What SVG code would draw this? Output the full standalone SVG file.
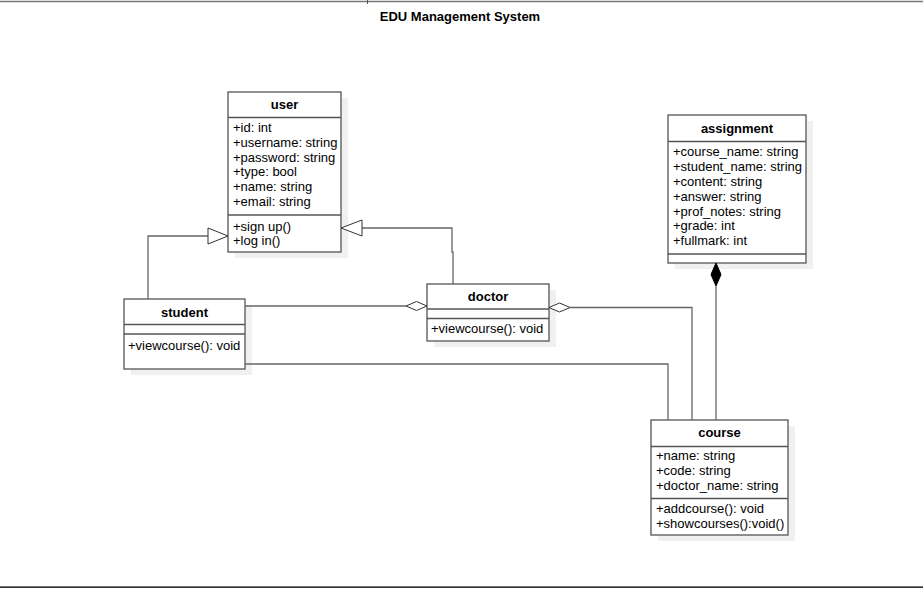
<svg xmlns="http://www.w3.org/2000/svg" width="923" height="589" viewBox="0 0 923 589">
<style>
  .box { fill: #ffffff; stroke: #555555; stroke-width: 1.3; }
  .shadow { fill: #f0f0f0; stroke: none; }
  .sep { stroke: #555555; stroke-width: 1.3; }
  .hdr { font-family: "Liberation Sans", Arial, sans-serif; font-size: 13px; font-weight: bold; fill: #000; text-anchor: middle; }
  .txt { font-family: "Liberation Sans", Arial, sans-serif; font-size: 13px; fill: #000; }
  .conn { fill: none; stroke: #666666; stroke-width: 1.3; }
  .gen { fill: #ffffff; stroke: #333333; stroke-width: 1; }
  .agg { fill: #ffffff; stroke: #333333; stroke-width: 1; }
  .comp { fill: #000000; stroke: #000000; stroke-width: 1; }
</style>
<rect x="0" y="0" width="923" height="589" fill="#ffffff"/>
<line x1="0" y1="1.5" x2="923" y2="1.5" stroke="#777777" stroke-width="1.5"/>
<line x1="367.5" y1="0" x2="367.5" y2="4" stroke="#555555" stroke-width="1"/>
<line x1="0" y1="586.5" x2="923" y2="586.5" stroke="#777777" stroke-width="1"/>
<line x1="0" y1="587.5" x2="923" y2="587.5" stroke="#333333" stroke-width="1"/>
<text x="460" y="20.5" class="hdr">EDU Management System</text>

<g id="user">
  <rect class="shadow" x="235" y="98" width="113" height="160"/>
  <rect class="box" x="228" y="92" width="113" height="160"/>
  <line class="sep" x1="228" y1="117.5" x2="341" y2="117.5"/>
  <line class="sep" x1="228" y1="215" x2="341" y2="215"/>
  <text class="hdr" x="284.5" y="109">user</text>
  <text class="txt" x="233" y="132">+id: int</text>
  <text class="txt" x="233" y="147">+username: string</text>
  <text class="txt" x="233" y="161.5">+password: string</text>
  <text class="txt" x="233" y="176">+type: bool</text>
  <text class="txt" x="233" y="191">+name: string</text>
  <text class="txt" x="233" y="205.5">+email: string</text>
  <text class="txt" x="233" y="231">+sign up()</text>
  <text class="txt" x="233" y="245">+log in()</text>
</g>

<g id="assignment">
  <rect class="shadow" x="675" y="121" width="138" height="148"/>
  <rect class="box" x="668" y="115" width="138" height="148"/>
  <line class="sep" x1="668" y1="141.5" x2="806" y2="141.5"/>
  <line class="sep" x1="668" y1="254" x2="806" y2="254"/>
  <text class="hdr" x="737" y="132.5">assignment</text>
  <text class="txt" x="673" y="155.5">+course_name: string</text>
  <text class="txt" x="673" y="170.5">+student_name: string</text>
  <text class="txt" x="673" y="185.5">+content: string</text>
  <text class="txt" x="673" y="200.5">+answer: string</text>
  <text class="txt" x="673" y="215.5">+prof_notes: string</text>
  <text class="txt" x="673" y="230">+grade: int</text>
  <text class="txt" x="673" y="245">+fullmark: int</text>
</g>

<g id="student">
  <rect class="shadow" x="131" y="305" width="121" height="70"/>
  <rect class="box" x="124" y="299" width="121" height="70"/>
  <line class="sep" x1="124" y1="324.5" x2="245" y2="324.5"/>
  <line class="sep" x1="124" y1="334" x2="245" y2="334"/>
  <text class="hdr" x="184.5" y="316.5">student</text>
  <text class="txt" x="128" y="350">+viewcourse(): void</text>
</g>

<g id="doctor">
  <rect class="shadow" x="434" y="290" width="122" height="57"/>
  <rect class="box" x="427" y="284" width="122" height="57"/>
  <line class="sep" x1="427" y1="309" x2="549" y2="309"/>
  <line class="sep" x1="427" y1="318.5" x2="549" y2="318.5"/>
  <text class="hdr" x="488" y="300.5">doctor</text>
  <text class="txt" x="431" y="333">+viewcourse(): void</text>
</g>

<g id="course">
  <rect class="shadow" x="658" y="426" width="137" height="115"/>
  <rect class="box" x="651" y="420" width="137" height="115"/>
  <line class="sep" x1="651" y1="446.5" x2="788" y2="446.5"/>
  <line class="sep" x1="651" y1="498.5" x2="788" y2="498.5"/>
  <text class="hdr" x="719.5" y="437">course</text>
  <text class="txt" x="656" y="459.5">+name: string</text>
  <text class="txt" x="656" y="474.5">+code: string</text>
  <text class="txt" x="656" y="490">+doctor_name: string</text>
  <text class="txt" x="656" y="512.5">+addcourse(): void</text>
  <text class="txt" x="656" y="527.5">+showcourses():void()</text>
</g>

<g id="connectors">
  <!-- student -> user generalization -->
  <polyline class="conn" points="148,299 148,236 208,236"/>
  <polygon class="gen" points="208,228 228,236 208,244"/>
  <!-- doctor -> user generalization -->
  <polyline class="conn" points="453,284 453,252 452,252 452,228 362,228"/>
  <polygon class="gen" points="362,220 341,228 362,236"/>
  <!-- student -> doctor aggregation -->
  <polyline class="conn" points="245,306 406,306"/>
  <polygon class="agg" points="427,306 416.5,301.5 406,306 416.5,310.5"/>
  <!-- doctor -> course aggregation -->
  <polyline class="conn" points="570,307.5 692,307.5 692,420"/>
  <polygon class="agg" points="549,307.5 559.5,303 570,307.5 559.5,312"/>
  <!-- student -> course -->
  <polyline class="conn" points="245,364 668,364 668,420"/>
  <!-- course -> assignment composition -->
  <polyline class="conn" points="716,420 716,286"/>
  <polygon class="comp" points="716,263 721,274.5 716,286 711,274.5"/>
</g>
</svg>
